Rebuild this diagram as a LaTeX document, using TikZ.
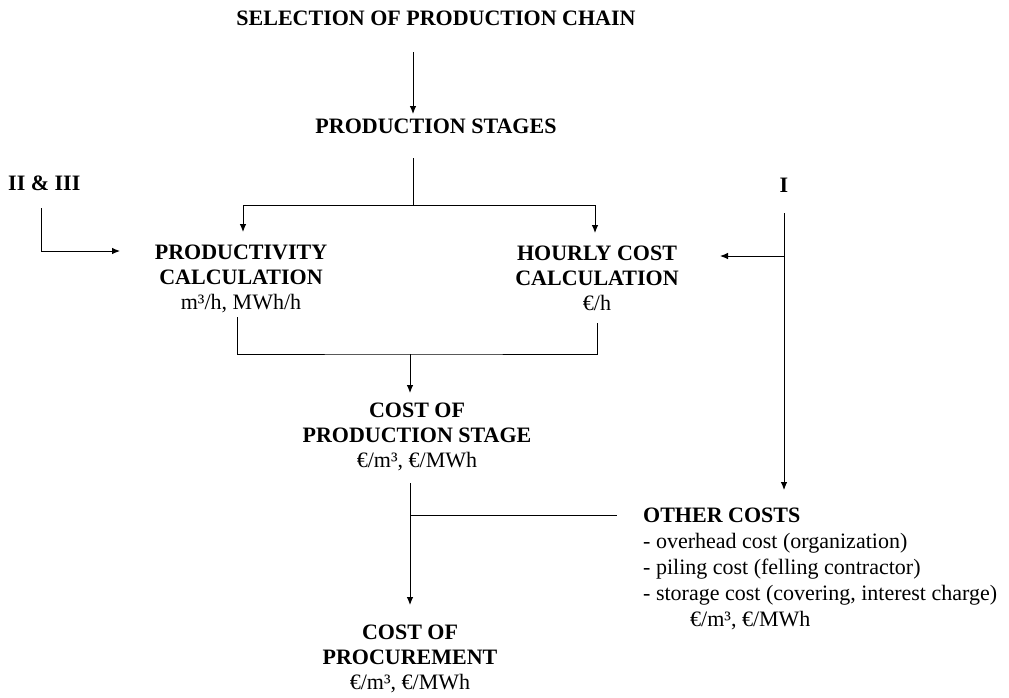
\documentclass[tikz,border=0pt]{standalone}
\usepackage{fontspec}
\setmainfont{Liberation Serif}
\usetikzlibrary{arrows.meta}
\begin{document}
\begin{tikzpicture}[x=1pt,y=-1pt,
  lbl/.style={inner sep=0pt, align=center, font=\fontsize{22}{25}\selectfont\bfseries},
  wire/.style={line width=0.9pt},
  arr/.style={wire,-{Latex[length=8pt,width=6.5pt]}}]
\useasboundingbox (0,0) rectangle (1009,697);

% labels
\node[lbl, anchor=north] (sel) at (436,11) {SELECTION OF PRODUCTION CHAIN};
\node[lbl, anchor=north] (stages) at (436,119) {PRODUCTION STAGES};
\node[lbl, anchor=north west] (ext) at (8,176) {II \& III};
\node[lbl, anchor=north] (inI) at (784,178) {I};
\node[lbl, anchor=north] (prod) at (241,245)
  {PRODUCTIVITY\\CALCULATION\\{\mdseries m³/h, MWh/h}};
\node[lbl, anchor=north] (hour) at (597,246)
  {HOURLY COST\\CALCULATION\\{\mdseries €/h}};
\node[lbl, anchor=north] (stagecost) at (417,403)
  {COST OF\\PRODUCTION STAGE\\{\mdseries €/m³, €/MWh}};
\node[lbl, anchor=north] (proc) at (410,625)
  {COST OF\\PROCUREMENT\\{\mdseries €/m³, €/MWh}};
\node[lbl, anchor=north west, align=left,
      font=\fontsize{22}{26}\selectfont\bfseries] (other) at (643,508)
  {OTHER COSTS\\
   {\mdseries - overhead cost (organization)}\\
   {\mdseries - piling cost (felling contractor)}\\
   {\mdseries - storage cost (covering, interest charge)}\\
   {\mdseries\hspace*{47pt}€/m³, €/MWh}};

% connector points
\coordinate (selOut)   at (413,52);
\coordinate (stIn)     at (413,114);
\coordinate (stOut)    at (413,158);
\coordinate (split)    at (413,205);
\coordinate (prodIn)   at (243,232);
\coordinate (hourIn)   at (595,233);
\coordinate (extOut)   at (41,208);
\coordinate (extBend)  at (41,251);
\coordinate (extIn)    at (120,251);
\coordinate (iOut)     at (784,213);
\coordinate (iTap)     at (784,256);
\coordinate (hourSide) at (720,256);
\coordinate (otherIn)  at (784,490);
\coordinate (prodOut)  at (237,317);
\coordinate (hourOut)  at (597,323);
\coordinate (merge)    at (410,354);
\coordinate (scIn)     at (410,393);
\coordinate (scOut)    at (410,483);
\coordinate (join)     at (410,515);
\coordinate (otherOut) at (617,515);
\coordinate (procIn)   at (410,605);

% connectors
\draw[arr] (selOut) -- (stIn);
\draw[wire] (stOut) -- (split);
\draw[arr] (split) -| (prodIn);
\draw[arr] (split) -| (hourIn);
\draw[arr] (extOut) -- (extBend) -- (extIn);
\draw[arr] (iOut) -- (otherIn);
\draw[arr] (iTap) -- (hourSide);
\draw[wire] (prodOut) |- (merge) -| (hourOut);
\draw[arr] (merge) -- (scIn);
\draw[arr] (scOut) -- (procIn);
\draw[wire] (join) -- (otherOut);
\end{tikzpicture}
\end{document}
